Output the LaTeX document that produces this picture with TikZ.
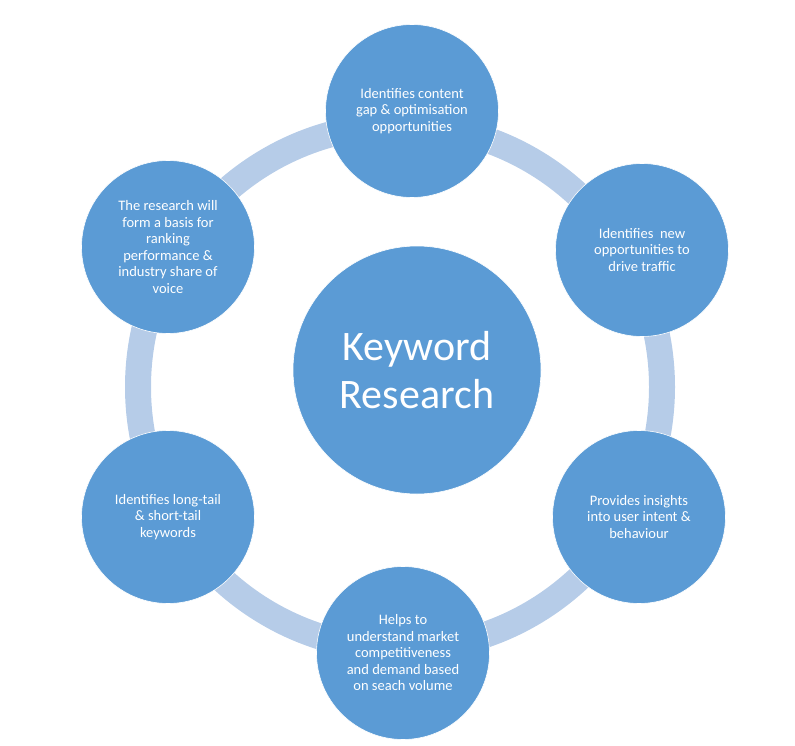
\documentclass[tikz,border=0pt]{standalone}
\usepackage{fontspec}
\setmainfont{Carlito}
\definecolor{kwblue}{RGB}{91,155,213}
\definecolor{kwring}{RGB}{182,204,232}
\begin{document}
\begin{tikzpicture}[x=1pt, y=-1pt]
    \tikzset{bubble/.style={circle, fill=kwblue, draw=white, line width=0.6pt, inner sep=0pt,
        minimum size=173pt, text=white, align=center,
        font=\fontsize{14.5}{16.5}\selectfont}}
    \tikzset{hub/.style={bubble, minimum size=248pt, font=\fontsize{42}{48}\selectfont}}
    \useasboundingbox (0,0) rectangle (795,746);
    \coordinate (C) at (400,387);
    % ring behind the bubbles
    \draw [kwring, line width=26pt] (C) circle (262pt);
    \node [hub] (kw) at (417,370) {Keyword\\Research};
    \node [bubble] (gap) at (412,111) {Identifies content\\gap \& optimisation\\opportunities};
    \node [bubble] (traffic) at (642,250) {Identifies~ new\\opportunities to\\drive traffic};
    \node [bubble] (intent) at (639,517) {Provides insights\\into user intent \&\\behaviour};
    \node [bubble] (market) at (403,653) {Helps to\\understand market\\competitiveness\\and demand based\\on seach volume};
    \node [bubble] (tail) at (168,517) {Identifies long-tail\\\& short-tail\\keywords};
    \node [bubble] (share) at (168,247) {The research will\\form a basis for\\ranking\\performance \&\\industry share of\\voice};
\end{tikzpicture}
\end{document}
